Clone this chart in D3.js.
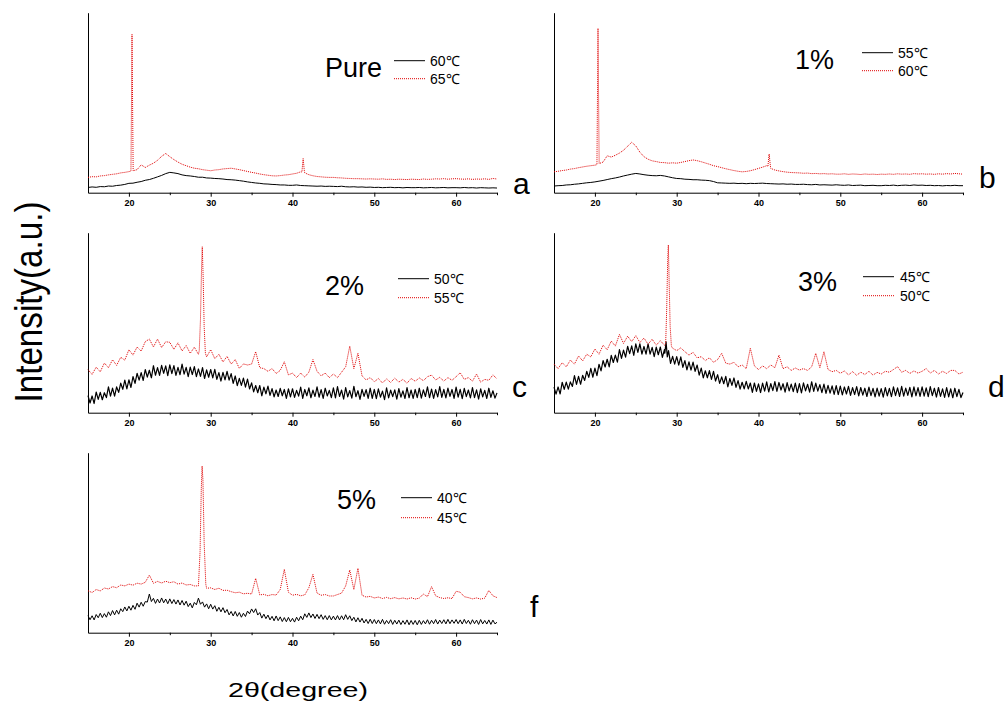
<!DOCTYPE html>
<html>
<head>
<meta charset="utf-8">
<script src="https://cdn.jsdelivr.net/npm/d3@7"></script>
<style>
  body { margin: 0; background: #fff; }
  svg { display: block; font-family: "Liberation Sans", Arial, sans-serif; }
</style>
</head>
<body>
<div class="chart"></div>
<script>
// 2theta grids: 0.5 degree steps and 0.25 degree steps (15 ... 65)
var twoTheta = d3.range(15, 65.001, 0.5)
var twoThetaFine = d3.range(15, 65.001, 0.25)
var tickMajor = [20, 30, 40, 50, 60]
var tickMinor = [25, 35, 45, 55, 65]

// ---- panel a : Pure ----
var a60 = [2.9,3.2,3.0,3.4,3.3,3.7,3.6,4.0,4.2,4.6,
  5.2,5.3,5.8,6.2,6.9,7.3,8.0,8.8,9.6,10.6,
  11.3,11.0,10.6,9.9,9.5,9.3,9.0,8.6,8.6,8.2,
  8.1,7.9,7.8,7.6,7.3,7.2,7.0,6.7,6.4,6.0,
  5.7,5.4,5.2,4.9,4.8,4.6,4.5,4.3,4.3,4.1,
  4.1,4.3,4.0,3.9,3.8,3.7,3.6,3.7,3.5,3.6,
  3.5,3.4,3.6,3.3,3.2,3.3,3.1,3.2,3.0,3.1,
  2.9,3.0,2.8,2.9,3.0,2.8,2.9,2.7,2.9,2.8,
  2.8,2.9,2.7,2.8,2.9,2.7,2.8,2.9,2.7,2.8,
  2.8,2.7,2.9,2.7,2.8,2.6,2.8,2.7,2.6,2.7,
  2.6]
var a65 = [8.5,8.9,8.8,9.3,9.5,9.9,10.2,10.5,11.0,11.3,
  11.7,12.0,12.8,15.5,14.0,15.3,16.4,18.0,20.2,21.8,
  20.0,18.4,17.0,15.8,15.0,14.2,13.6,13.3,12.8,12.5,
  12.2,12.6,12.8,13.2,13.4,13.6,13.2,12.8,12.3,11.8,
  11.3,10.9,10.4,10.0,9.7,9.4,9.3,9.5,9.8,10.0,
  10.4,10.8,11.6,11.0,10.0,9.4,9.0,8.8,8.6,8.5,
  8.5,8.3,8.2,8.0,7.9,7.8,7.8,7.7,7.6,7.7,
  7.6,7.5,7.7,7.4,7.5,7.3,7.5,7.4,7.3,7.5,
  7.4,7.3,7.6,7.4,7.5,7.7,7.6,7.8,7.5,7.7,
  7.8,7.6,7.5,7.7,7.4,7.6,7.5,7.7,7.4,7.9,
  7.6]
var a65Peaks = [
  [[20.25, 12.0], [20.38, 88], [20.52, 12.2]],
  [[41.15, 11.5], [41.3, 19], [41.45, 12.0]]
]

// ---- panel b : 1% ----
var b55 = [3.7,3.9,4.0,4.3,4.4,4.7,4.9,5.2,5.5,5.7,
  6.0,6.4,6.8,7.3,7.8,8.2,8.7,9.3,9.8,10.3,
  10.7,10.4,10.0,9.7,9.5,9.4,9.6,9.3,8.8,8.3,
  7.9,7.8,7.5,7.4,7.2,7.2,7.0,6.9,6.7,6.2,
  5.5,5.4,5.3,5.2,5.3,5.1,5.2,5.0,5.2,5.1,
  5.2,5.3,5.1,5.0,4.9,4.8,4.9,4.7,4.8,4.6,
  4.6,4.7,4.5,4.4,4.6,4.3,4.4,4.3,4.2,4.4,
  4.2,4.1,4.3,4.0,4.1,4.2,3.9,4.0,4.1,3.9,
  3.9,4.1,4.0,4.2,3.9,4.1,4.2,4.0,4.3,4.1,
  4.2,4.0,4.1,3.9,4.0,3.8,4.0,3.9,4.1,3.9,
  3.9]
var b60 = [11.6,11.9,12.3,12.6,13.1,13.4,13.9,14.3,14.7,15.0,
  15.3,16.0,17.0,20.5,19.8,20.8,22.0,23.6,25.8,28.0,
  26.0,22.5,20.0,18.6,17.7,17.3,16.8,16.7,16.4,16.6,
  16.4,16.8,17.3,17.8,18.2,17.8,17.2,16.5,15.8,15.0,
  14.5,13.9,13.3,12.8,12.3,11.9,11.6,11.8,12.2,12.8,
  13.5,14.2,15.0,13.5,12.6,12.1,11.7,11.4,11.2,11.1,
  11.0,10.8,10.9,10.6,10.7,10.5,10.6,10.4,10.5,10.3,
  10.3,10.5,10.2,10.4,10.3,10.1,10.4,10.2,10.3,10.1,
  10.3,10.2,10.4,10.2,10.5,10.3,10.4,10.2,10.6,10.4,
  10.5,10.3,10.4,10.2,10.5,10.3,10.6,10.4,10.7,10.5,
  10.3]
var b60Peaks = [
  [[20.25, 15.6], [20.38, 91.3], [20.52, 16.2]],
  [[41.15, 14.6], [41.3, 21.5], [41.45, 15.0]]
]

// ---- panel c : 2% (black read on the 0.25 degree grid) ----
var c50 = [9.5,5.4,9.3,5.1,11.5,7.4,11.3,7.2,11.1,8.4,14.3,9.2,13.7,9.2,14.3,11.3,16.4,13.0,18.1,13.2,
  18.3,14.0,20.1,16.3,21.9,18.1,22.3,17.9,24.0,19.8,23.6,19.4,26.1,20.8,25.0,20.7,26.3,21.9,26.0,20.6,
  26.6,21.7,26.2,20.7,25.2,21.1,27.0,21.4,25.2,20.0,25.3,21.2,25.6,20.0,24.3,20.2,25.1,19.0,23.8,19.7,
  24.0,19.3,24.1,18.5,22.3,17.6,22.4,18.2,23.0,18.1,21.7,16.3,20.4,15.0,19.1,15.2,19.2,14.2,18.7,13.2,
  16.6,11.6,15.1,11.1,15.1,9.4,14.2,10.5,14.8,9.6,13.4,8.8,12.6,9.0,13.5,9.4,12.9,7.9,13.3,8.8,
  13.3,8.5,12.4,9.2,14.2,8.0,12.9,9.4,13.8,8.3,12.5,9.0,14.4,8.6,12.8,7.9,13.6,9.3,12.4,8.4,
  13.8,8.2,14.5,9.0,12.6,7.6,13.9,8.8,12.3,8.1,14.7,8.9,12.2,7.4,13.0,9.1,12.8,8.0,13.6,7.9,
  12.9,7.8,13.2,8.6,12.0,7.3,13.8,8.2,12.5,8.9,12.7,7.5,13.4,8.6,12.1,7.9,14.0,8.3,12.6,8.0,
  12.9,8.4,13.6,8.1,12.7,9.0,14.3,8.3,13.1,7.9,12.8,8.8,14.5,8.5,13.0,8.2,13.7,9.1,12.9,8.0,
  14.2,8.6,13.0,7.8,13.5,8.9,12.6,8.2,13.9,8.4,12.7,7.6,13.3,8.8,12.4,7.9,13.6,8.5,12.2,8.1,
  11.0]
var c55 = [23.9,21.3,25.3,22.7,27.6,25.0,29.4,26.3,30.8,29.2,
  35.0,32.0,36.5,34.2,39.5,40.9,36.5,40.9,36.2,39.4,
  39.1,35.2,38.8,34.3,37.3,33.0,36.4,32.4,34.0,31.0,
  35.0,30.0,32.5,28.2,31.3,27.0,29.5,24.6,27.1,26.5,
  27.0,33.9,25.0,24.5,23.0,24.5,21.8,23.5,28.3,21.0,
  22.0,19.5,22.0,19.8,22.5,29.5,23.0,20.5,22.0,19.5,
  21.5,19.5,22.5,25.5,37.0,24.5,33.0,20.5,18.2,19.5,
  17.2,19.0,16.5,18.8,16.8,19.2,17.0,18.5,16.4,19.0,
  17.5,19.3,17.8,20.0,20.9,18.2,19.6,17.6,19.5,18.0,
  20.0,22.2,18.5,19.5,17.5,21.5,17.0,18.5,18.0,21.0,
  18.8]
var c55Peaks = [
  [[28.6, 34.5], [28.75, 52], [28.88, 80], [28.97, 92.2], [29.08, 75], [29.2, 48], [29.35, 33]]
]

// ---- panel d : 3% (black read on the 0.25 degree grid) ----
var d45 = [14.2,10.3,14.3,10.4,16.9,13.0,17.0,13.1,17.1,14.6,20.6,15.7,20.2,15.8,20.8,17.9,23.0,19.6,24.6,19.7,
  24.8,20.6,26.9,23.2,29.0,25.4,29.7,25.5,31.8,27.9,32.0,28.1,35.1,30.2,34.8,30.9,36.9,32.8,37.1,31.9,
  38.2,33.5,38.3,32.5,36.8,32.5,38.3,32.5,36.3,31.1,36.4,32.2,36.5,30.7,35.0,30.2,34.5,27.4,31.3,27.0,
  31.2,26.4,31.0,25.2,28.9,23.8,28.2,23.7,28.1,23.0,26.5,20.9,24.8,19.3,23.3,19.4,23.4,18.5,23.0,17.6,
  21.1,16.3,19.9,16.1,20.2,14.4,19.0,15.2,19.3,14.1,17.8,13.1,16.9,13.2,17.4,13.2,16.5,11.3,16.5,11.8,
  16.0,11.2,16.4,12.0,17.1,11.5,16.2,12.3,17.3,11.9,16.8,12.6,16.1,11.4,16.7,12.1,15.9,11.7,16.4,11.2,
  16.2,11.0,16.6,12.1,15.8,11.4,17.2,11.8,16.4,12.0,15.6,11.1,15.9,10.7,15.2,10.9,14.9,10.2,15.0,10.1,
  14.8,9.9,14.3,10.4,14.6,9.6,13.9,10.1,14.5,9.3,14.0,9.8,13.6,9.0,14.2,9.5,13.5,8.8,13.7,9.2,
  13.4,8.6,14.0,9.3,13.5,8.9,14.3,9.5,13.8,9.0,14.6,9.2,13.7,9.6,14.1,8.8,14.4,9.4,13.9,9.1,
  14.3,9.2,13.8,8.9,14.5,9.5,13.6,8.7,14.0,9.1,13.2,8.5,13.9,8.8,13.3,8.3,13.6,8.9,13.0,8.4,
  11.2]
var d45Peaks = [
  [[28.55, 33], [28.7, 39.4], [28.85, 31]]
]
var d50 = [27.0,24.5,27.8,25.5,29.2,27.0,31.5,28.8,32.5,31.0,
  35.4,32.5,37.5,35.0,39.8,37.0,43.5,38.5,42.5,39.5,
  42.8,39.0,41.5,38.0,40.8,37.5,40.0,37.5,40.0,35.8,
  34.5,36.0,33.9,32.0,33.5,30.5,31.1,29.0,30.5,28.0,
  29.5,33.0,27.5,27.0,28.0,25.5,26.5,24.5,35.8,26.0,
  24.0,26.0,24.5,26.5,25.0,32.0,24.5,25.5,23.5,24.8,
  23.7,24.5,23.5,25.5,33.0,25.0,33.9,24.0,22.8,23.5,
  21.9,23.2,21.0,22.8,20.8,22.5,21.2,23.0,20.9,22.4,
  21.5,23.0,22.5,24.0,25.6,22.5,23.5,21.8,23.2,22.0,
  23.0,24.5,22.0,23.5,21.5,23.0,21.8,23.5,23.5,21.5,
  22.5]
var d50Peaks = [
  [[28.65, 38], [28.78, 58], [28.9, 85], [28.98, 93.2], [29.08, 72], [29.2, 48], [29.35, 37]]
]

// ---- panel f : 5% (black read on the 0.25 degree grid) ----
var f40 = [9.5,7.2,9.4,7.1,10.1,8.3,10.8,8.4,10.6,8.6,11.6,9.5,12.3,9.9,12.5,10.3,13.3,11.7,14.3,12.1,
  14.7,12.5,15.2,13.0,16.4,14.2,16.9,14.7,17.3,17.0,21.5,17.3,19.1,16.3,18.7,16.5,19.3,16.6,18.7,16.1,
  18.8,16.2,18.4,15.9,18.2,15.4,17.9,15.3,17.5,14.5,16.4,13.8,16.8,15.5,19.2,15.8,17.1,14.2,16.0,13.3,
  15.8,13.1,15.0,11.9,14.1,11.6,13.9,11.1,12.9,9.9,11.8,9.3,11.8,9.1,11.2,8.6,10.8,9.0,12.0,10.5,
  13.2,11.2,13.3,9.8,11.2,8.1,10.3,7.8,9.8,7.1,9.1,6.6,9.3,6.7,8.8,6.2,8.4,6.1,8.5,6.1,
  8.0,5.9,8.6,6.6,9.2,7.2,10.5,8.5,11.0,8.4,10.4,7.9,10.2,7.8,10.0,7.4,9.5,7.2,9.5,7.1,
  9.2,7.1,9.5,7.1,9.4,7.2,10.0,7.4,9.4,6.7,8.6,6.0,8.3,5.9,8.0,5.4,7.4,5.1,7.5,5.1,
  7.3,5.0,7.1,4.9,7.4,4.7,6.8,5.0,7.2,4.6,6.9,4.8,7.0,4.5,6.7,4.7,7.1,4.4,6.8,4.6,
  6.8,4.4,6.9,4.6,6.7,4.9,7.2,4.7,6.9,5.0,7.3,4.8,7.0,5.1,7.2,4.9,7.4,5.0,7.1,5.2,
  7.3,5.0,7.1,4.8,7.4,5.1,6.9,4.7,7.2,5.0,7.0,4.6,7.3,4.9,6.8,4.8,7.1,4.6,7.0,4.9,
  5.8]
var f45 = [23.3,22.3,24.0,23.2,24.8,24.3,25.6,25.0,26.5,26.0,
  27.0,26.4,27.5,27.0,28.0,32.0,27.5,28.5,27.6,28.6,
  27.8,28.3,27.0,27.6,26.5,26.8,26.0,26.4,26.0,24.7,
  24.9,24.0,24.7,23.5,23.6,22.8,22.2,22.5,21.6,21.9,
  21.5,30.2,21.0,21.3,20.5,21.2,20.9,24.0,35.2,22.5,
  20.8,21.3,20.5,21.0,25.0,32.4,22.0,20.8,21.2,20.4,
  20.4,21.2,22.0,26.0,34.8,24.0,35.8,20.8,19.8,20.2,
  19.3,19.8,19.0,19.6,18.9,19.5,18.8,19.3,18.7,19.4,
  18.7,19.2,21.5,20.0,25.6,20.5,19.5,19.0,19.4,19.0,
  23.0,22.5,20.0,19.5,18.8,19.3,18.7,19.2,23.5,20.5,
  19.5]
var f45Peaks = [
  [[28.5, 26], [28.7, 45], [28.85, 80], [28.95, 92.6], [29.05, 85], [29.2, 50], [29.4, 27]]
]

var titles = ["Pure", "1%", "2%", "3%", "5%"]
var letters = ["a", "b", "c", "d", "f"]
var tempLow = ["60℃", "55℃", "50℃", "45℃", "40℃"]
var tempHigh = ["65℃", "60℃", "55℃", "50℃", "45℃"]
var lowSeries = [a60, b55, c50, d45, f40]
var lowGrid = [twoTheta, twoTheta, twoThetaFine, twoThetaFine, twoThetaFine]
var lowPeaks = [[], [], [], d45Peaks, []]
var highSeries = [a65, b60, c55, d50, f45]
var highPeaks = [a65Peaks, b60Peaks, c55Peaks, d50Peaks, f45Peaks]

// layout of the five panels (left, bottom of plot, and text offsets)
var plotW = 409, plotH = 180
var layout = [
  {left: 88,  bottom: 192.7, title: [237, 64], leg: [306, 48, 342], legGap: 18, letter: [425, 181], lowW: 1},
  {left: 554, bottom: 192.7, title: [241, 56], leg: [308, 40, 344], legGap: 18, letter: [425, 175], lowW: 1},
  {left: 88,  bottom: 412.7, title: [237, 62], leg: [310, 46, 346], legGap: 19, letter: [424, 164], lowW: 1.2},
  {left: 554, bottom: 412.7, title: [244, 58], leg: [309, 44, 346], legGap: 19, letter: [434, 164], lowW: 1.2},
  {left: 88,  bottom: 632.7, title: [249, 56], leg: [313, 45, 349], legGap: 20, letter: [442, 164], lowW: 1}
]

var width = 1006, height = 711
var svg = d3.select(".chart").append("svg")
  .attr("width", width)
  .attr("height", height)

var x = d3.scaleLinear().domain([15, 65]).range([0, plotW])
var y = d3.scaleLinear().domain([0, 100]).range([plotH, 0])

var line = d3.line().x(d => x(d[0])).y(d => y(d[1]))

function buildSeries(grid, values, peaks) {
  var pts = grid.map((t, i) => [t, values[i]])
  peaks.forEach(function(p) {
    var lo = p[0][0], hi = p[p.length - 1][0]
    pts = pts.filter(d => d[0] < lo || d[0] > hi).concat(p)
  })
  return pts.sort((a, b) => a[0] - b[0])
}

layout.forEach(function(L, i) {
  var g = svg.append("g")
    .attr("transform", `translate(${L.left},${L.bottom - plotH})`)

  // bottom axis
  g.append("g")
    .attr("transform", `translate(0,${plotH})`)
    .call(d3.axisBottom(x).tickValues(tickMajor).tickSize(4).tickSizeOuter(0).tickFormat(d3.format("d")))
    .call(ax => ax.selectAll("text")
      .attr("font-family", "Liberation Sans, Arial, sans-serif")
      .attr("font-size", 9).attr("font-weight", "bold").attr("fill", "#000"))
  g.append("g")
    .attr("transform", `translate(0,${plotH})`)
    .call(d3.axisBottom(x).tickValues(tickMinor).tickSize(2.5).tickSizeOuter(0).tickFormat(""))
    .call(ax => ax.select(".domain").remove())

  // left axis (line only)
  g.append("g")
    .call(d3.axisLeft(y).tickValues([]).tickSizeOuter(0))

  // curves
  g.append("path")
    .datum(buildSeries(lowGrid[i], lowSeries[i], lowPeaks[i]))
    .attr("fill", "none")
    .attr("stroke", "#000")
    .attr("stroke-width", L.lowW)
    .attr("stroke-linejoin", "round")
    .attr("d", line)
  g.append("path")
    .datum(buildSeries(twoTheta, highSeries[i], highPeaks[i]))
    .attr("fill", "none")
    .attr("stroke", "#e00000")
    .attr("stroke-width", 1)
    .attr("stroke-dasharray", "1,1")
    .attr("d", line)

  // title
  g.append("text")
    .attr("x", L.title[0]).attr("y", L.title[1])
    .attr("font-size", 27)
    .text(titles[i])

  // legend
  var leg = g.append("g")
  leg.append("line")
    .attr("x1", L.leg[0]).attr("x2", L.leg[0] + 31)
    .attr("y1", L.leg[1]).attr("y2", L.leg[1])
    .attr("stroke", "#000").attr("stroke-width", 1)
  leg.append("line")
    .attr("x1", L.leg[0]).attr("x2", L.leg[0] + 31)
    .attr("y1", L.leg[1] + L.legGap).attr("y2", L.leg[1] + L.legGap)
    .attr("stroke", "#e00000").attr("stroke-width", 1)
    .attr("stroke-dasharray", "1,1")
  leg.append("text")
    .attr("x", L.leg[2]).attr("y", L.leg[1] + 5)
    .attr("font-size", 14)
    .text(tempLow[i])
  leg.append("text")
    .attr("x", L.leg[2]).attr("y", L.leg[1] + L.legGap + 5)
    .attr("font-size", 14)
    .text(tempHigh[i])

  // panel letter
  g.append("text")
    .attr("x", L.letter[0]).attr("y", L.letter[1])
    .attr("font-size", 30)
    .text(letters[i])
})

// axis titles
svg.append("text")
  .attr("transform", "translate(42,302) rotate(-90)")
  .attr("text-anchor", "middle")
  .attr("font-size", 38)
  .attr("textLength", 201)
  .attr("lengthAdjust", "spacingAndGlyphs")
  .text("Intensity(a.u.)")

svg.append("text")
  .attr("x", 298).attr("y", 697)
  .attr("text-anchor", "middle")
  .attr("font-size", 21)
  .attr("textLength", 140)
  .attr("lengthAdjust", "spacingAndGlyphs")
  .text("2θ(degree)")
</script>
</body>
</html>
